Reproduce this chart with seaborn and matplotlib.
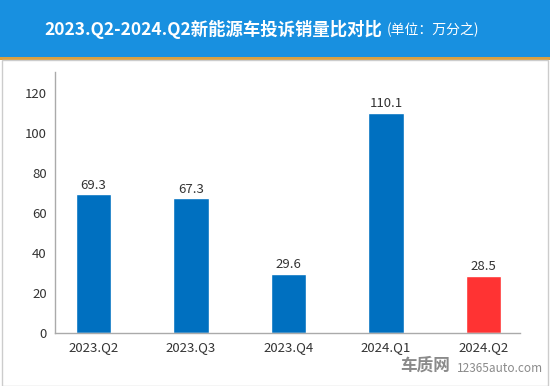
import matplotlib
matplotlib.use("Agg")
import matplotlib.pyplot as plt
import seaborn as sns
import pandas as pd
from matplotlib.patches import Rectangle

sns.set_theme(style="white")
plt.rcParams['font.family'] = ['Noto Sans CJK SC', 'DejaVu Sans']

quarters = ["2023.Q2", "2023.Q3", "2023.Q4", "2024.Q1", "2024.Q2"]
ratio = [69.3, 67.3, 29.6, 110.1, 28.5]
bar_colors = ["#0070c0", "#0070c0", "#0070c0", "#0070c0", "#ff3333"]
yticks = [0, 20, 40, 60, 80, 100, 120]

df = pd.DataFrame({"quarter": quarters, "ratio": ratio})

fig = plt.figure(figsize=(5.5, 3.86), dpi=100)
fig.patch.set_facecolor("white")

# header band
fig.patches.append(Rectangle((0, 1 - 57 / 386), 1, 57 / 386, transform=fig.transFigure,
                             facecolor="#1890e0", edgecolor="none", zorder=0))
fig.patches.append(Rectangle((0, 1 - 60 / 386), 1, 3 / 386, transform=fig.transFigure,
                             facecolor="#d9a040", edgecolor="none", zorder=0))
# thin frame round the white area
fig.patches.append(Rectangle((1.5 / 550, 0), 546.5 / 550, 1 - 60 / 386, transform=fig.transFigure,
                             facecolor="none", edgecolor="#cccccc", linewidth=1, zorder=0))

fig.text(213 / 550, 1 - 29 / 386, "2023.Q2-2024.Q2新能源车投诉销量比对比", color="white",
         fontsize=12.5, fontweight="bold", ha="center", va="center")
fig.text(387 / 550, 1 - 30 / 386, "(单位：万分之)", color="white", fontsize=10,
         ha="left", va="center")

ax = fig.add_axes([55 / 550, 53 / 386, 465 / 550, 261 / 386])
sns.barplot(data=df, x="quarter", y="ratio", hue="quarter", palette=bar_colors,
            width=0.36, legend=False, ax=ax, saturation=1)

for c in ax.containers:
    ax.bar_label(c, fmt="%.1f", padding=2, fontsize=9.5, color="#333333")

ax.set_ylim(0, 130.5)
ax.set_xlim(-0.395, 4.374)
ax.set_yticks(yticks)
ax.set_xlabel("")
ax.set_ylabel("")
ax.tick_params(axis="both", length=0, labelsize=9.5, labelcolor="#333333")
ax.tick_params(axis="y", pad=6)
ax.tick_params(axis="x", pad=6)
for s in ["top", "right"]:
    ax.spines[s].set_visible(False)
for s in ["left", "bottom"]:
    ax.spines[s].set_color("#aaaaaa")
    ax.spines[s].set_linewidth(1)

# watermark
fig.text(425 / 550, 1 - 366 / 386, "车质网", color="#8a8a8a", fontsize=12,
         fontweight="bold", ha="center", va="center")
fig.text(457 / 550, 1 - 368 / 386, "12365auto.com", color="#8a8a8a", fontsize=8.5,
         ha="left", va="center")

fig.savefig("out.png", dpi=100)
